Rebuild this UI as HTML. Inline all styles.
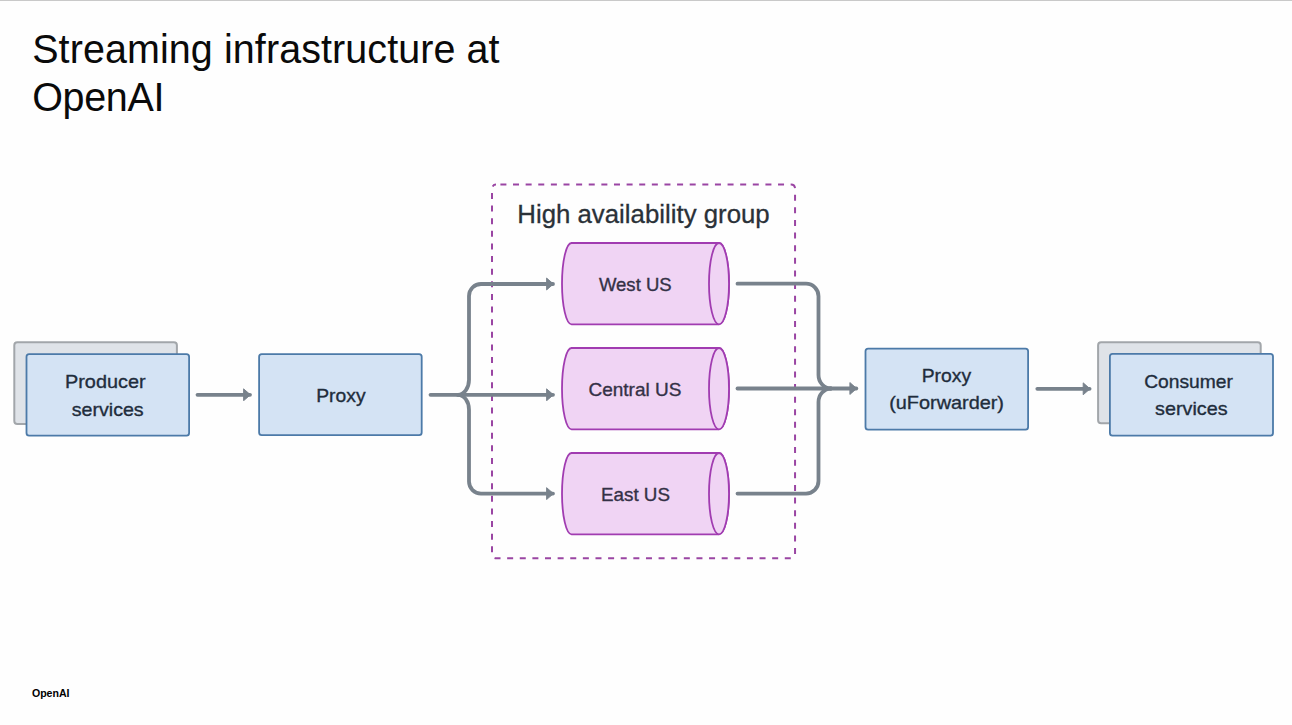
<!DOCTYPE html>
<html>
<head>
<meta charset="utf-8">
<style>
html,body{margin:0;padding:0;background:#fefefe;}
body{width:1292px;height:725px;position:relative;overflow:hidden;font-family:"Liberation Sans",sans-serif;}
.topline{position:absolute;left:0;top:0;width:1292px;height:1px;background:#c9c9c9;}
svg{position:absolute;left:0;top:0;}
.lbl{font-family:"Liberation Sans",sans-serif;font-size:19px;fill:#1f2d3c;stroke:#1f2d3c;stroke-width:0.35px;}
.cyl{fill:#343146;stroke:#343146;}
.ha{font-family:"Liberation Sans",sans-serif;font-size:25.8px;fill:#2a3138;stroke:#2a3138;stroke-width:0.3px;}
</style>
</head>
<body>
<div class="topline"></div>

<svg width="1292" height="725" viewBox="0 0 1292 725">
  <defs>
    <marker id="ah" viewBox="0 0 10 14" refX="9" refY="7" markerWidth="9.3" markerHeight="13.4" markerUnits="userSpaceOnUse" orient="auto">
      <path d="M2.1,0.6 L9.5,7 L2.1,13.4 Z" fill="#78828c" stroke="#78828c" stroke-width="1" stroke-linejoin="round"/>
    </marker>
  </defs>

  <g font-family="Liberation Sans, sans-serif" font-size="39.5" fill="#0a0a0a">
    <text x="32.2" y="63.3" textLength="467.4" lengthAdjust="spacing" transform="translate(0 63.3) scale(1 1.025) translate(0 -63.3)">Streaming infrastructure at</text>
    <text x="32.2" y="111.3" textLength="132.2" lengthAdjust="spacing" transform="translate(0 111.3) scale(1 1.025) translate(0 -111.3)">OpenAI</text>
  </g>
  <text x="31.9" y="696.9" font-family="Liberation Sans, sans-serif" font-size="10.6" font-weight="bold" fill="#000">OpenAI</text>
  <!-- HA dashed group -->
  <rect x="492" y="184.6" width="303.05" height="373.7" rx="4" fill="none" stroke="#9a45a3" stroke-width="2" stroke-dasharray="6 6.62" stroke-dashoffset="-4.4"/>
  <text class="ha" x="643.5" y="222.7" text-anchor="middle">High availability group</text>

  <!-- Producer -->
  <rect x="14.3" y="342.3" width="162.6" height="81.8" rx="3" fill="#dfe3e8" stroke="#a2a6aa" stroke-width="2"/>
  <rect x="26.5" y="354.2" width="162.6" height="81.5" rx="2.6" fill="#d4e3f4" stroke="#4c7aa8" stroke-width="1.8"/>
  <text class="lbl" text-anchor="middle"><tspan x="105.3" y="388" textLength="80.6" lengthAdjust="spacingAndGlyphs">Producer</tspan><tspan x="107.7" y="415.5" textLength="71.9" lengthAdjust="spacingAndGlyphs">services</tspan></text>

  <!-- Proxy -->
  <rect x="259.1" y="354.2" width="162.6" height="81" rx="2.6" fill="#d4e3f4" stroke="#4c7aa8" stroke-width="1.8"/>
  <text class="lbl" x="340.9" y="401.8" text-anchor="middle" textLength="49.4" lengthAdjust="spacingAndGlyphs">Proxy</text>

  <!-- uForwarder -->
  <rect x="865.5" y="348.6" width="162.6" height="81" rx="2.6" fill="#d4e3f4" stroke="#4c7aa8" stroke-width="1.8"/>
  <text class="lbl" text-anchor="middle"><tspan x="946.4" y="382.3" textLength="49.4" lengthAdjust="spacingAndGlyphs">Proxy</tspan><tspan x="946.6" y="409.1" textLength="114.8" lengthAdjust="spacingAndGlyphs">(uForwarder)</tspan></text>

  <!-- Consumer -->
  <rect x="1098.1" y="342.2" width="162.6" height="81" rx="3" fill="#dfe3e8" stroke="#a2a6aa" stroke-width="2"/>
  <rect x="1109.9" y="353.9" width="163.1" height="81.7" rx="2.6" fill="#d4e3f4" stroke="#4c7aa8" stroke-width="1.8"/>
  <text class="lbl" text-anchor="middle"><tspan x="1188.6" y="387.9" textLength="88.8" lengthAdjust="spacingAndGlyphs">Consumer</tspan><tspan x="1191.3" y="415.2" textLength="72.5" lengthAdjust="spacingAndGlyphs">services</tspan></text>

  <!-- Cylinders -->
  <g fill="#f0d4f4" stroke="#a13cb1" stroke-width="1.8">
    <path d="M571.5,243 L719,243 A10,40.65 0 0 1 719,324.3 L571.5,324.3 A9.5,40.65 0 0 1 571.5,243 Z"/>
    <ellipse cx="719" cy="283.65" rx="10" ry="40.65"/>
    <path d="M571.5,348 L719,348 A10,40.65 0 0 1 719,429.3 L571.5,429.3 A9.5,40.65 0 0 1 571.5,348 Z"/>
    <ellipse cx="719" cy="388.65" rx="10" ry="40.65"/>
    <path d="M571.5,453 L719,453 A10,40.65 0 0 1 719,534.3 L571.5,534.3 A9.5,40.65 0 0 1 571.5,453 Z"/>
    <ellipse cx="719" cy="493.65" rx="10" ry="40.65"/>
  </g>
  <text class="lbl cyl" x="635.3" y="290.7" text-anchor="middle" textLength="72.7" lengthAdjust="spacingAndGlyphs">West US</text>
  <text class="lbl cyl" x="634.95" y="395.7" text-anchor="middle" textLength="93" lengthAdjust="spacingAndGlyphs">Central US</text>
  <text class="lbl cyl" x="635.5" y="500.7" text-anchor="middle" textLength="69" lengthAdjust="spacingAndGlyphs">East US</text>

  <!-- Arrows -->
  <g fill="none" stroke="#78828c" stroke-width="3.8" stroke-linecap="round" stroke-linejoin="round">
    <path d="M197.5,394.8 L250,394.8" marker-end="url(#ah)"/>
    <path d="M430.5,394.8 L553,394.8" marker-end="url(#ah)"/>
    <path d="M458,394.8 A11,15 0 0 0 469,379.8 L469,296 A12,12 0 0 1 481,284 L553,284" marker-end="url(#ah)"/>
    <path d="M458,394.8 A11,15 0 0 1 469,409.8 L469,481.6 A12,12 0 0 0 481,493.6 L553,493.6" marker-end="url(#ah)"/>
    <path d="M737.5,283.7 L806,283.7 A12.5,12.5 0 0 1 818.5,296.2 L818.5,375 A12.5,13.5 0 0 0 831,388.5"/>
    <path d="M737.5,493.6 L806,493.6 A12.5,12.5 0 0 0 818.5,481.1 L818.5,402 A12.5,13.5 0 0 1 831,388.5"/>
    <path d="M737.5,388.5 L856.3,388.5" marker-end="url(#ah)"/>
    <path d="M1037.3,388.8 L1089.6,388.8" marker-end="url(#ah)"/>
  </g>
</svg>

</body>
</html>
